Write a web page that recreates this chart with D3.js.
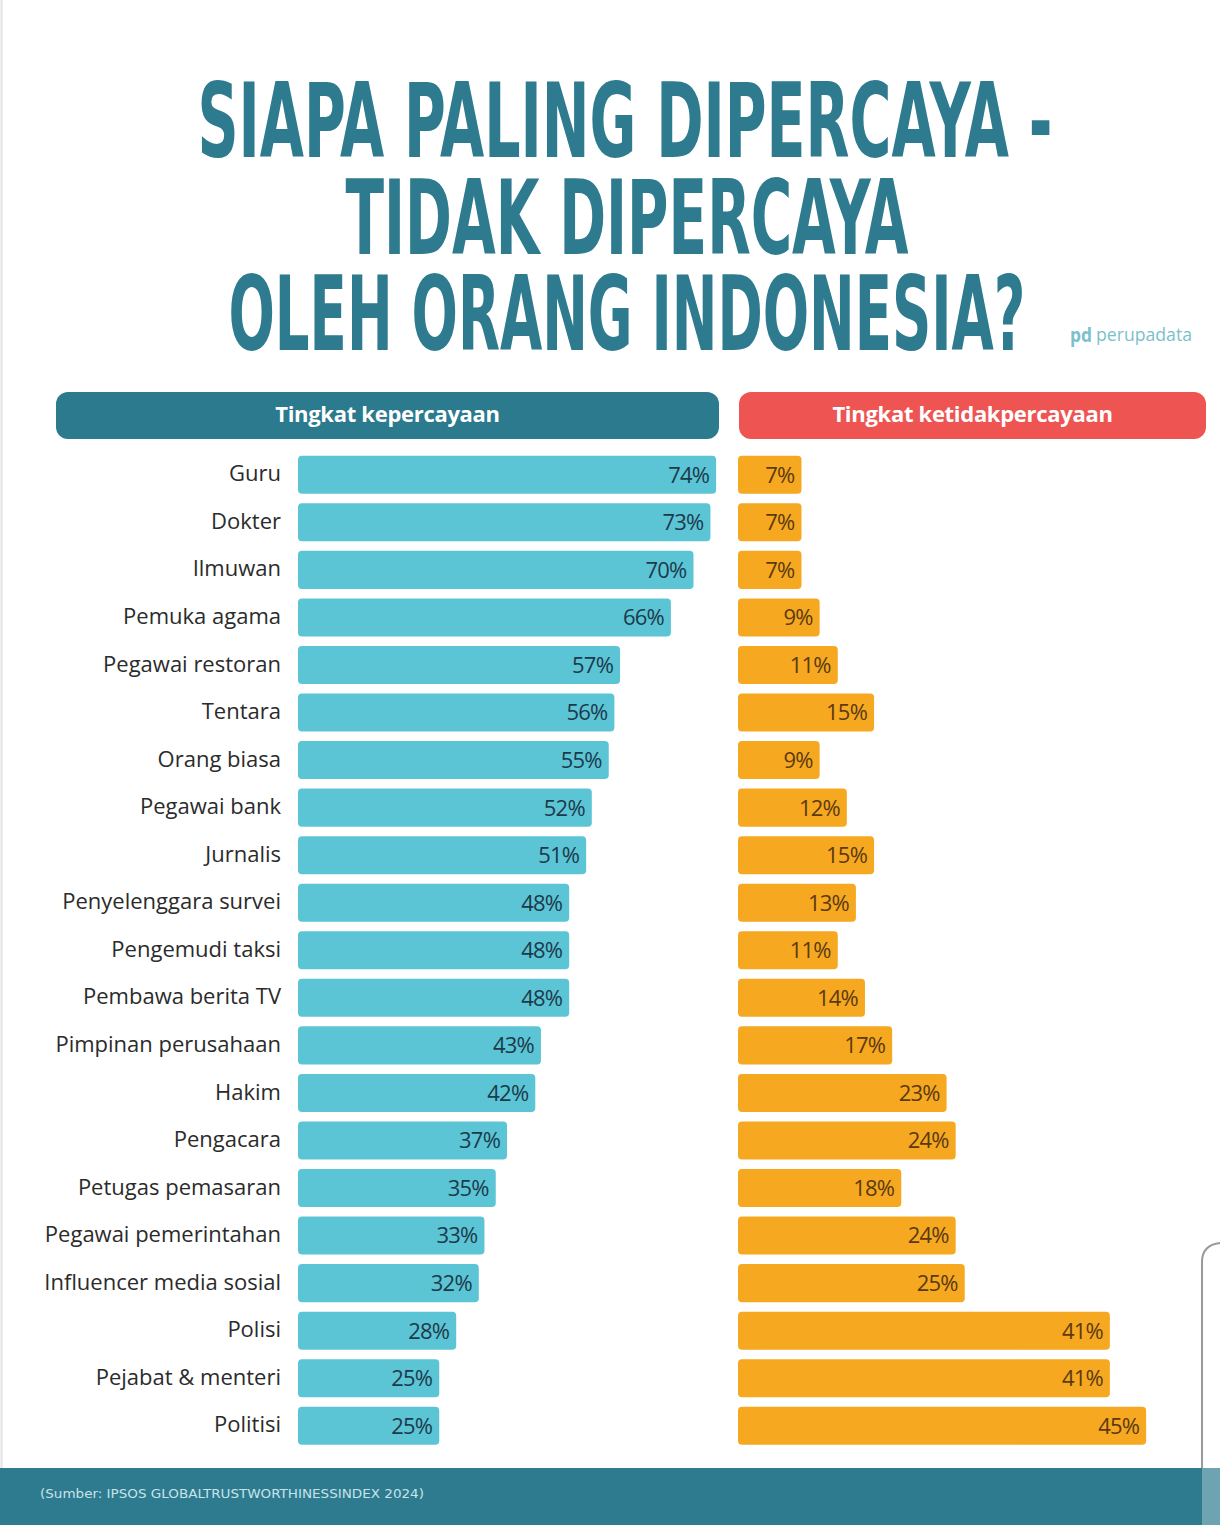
<!DOCTYPE html>
<html>
<head>
<meta charset="utf-8">
<script src="https://cdn.jsdelivr.net/npm/d3@7"></script>
<style>
  html, body { margin: 0; padding: 0; background: #fff; }
  svg { display: block; }
</style>
</head>
<body>
<svg id="chart"></svg>
<script>
// data
const categories = ["Guru", "Dokter", "Ilmuwan", "Pemuka agama", "Pegawai restoran", "Tentara",
  "Orang biasa", "Pegawai bank", "Jurnalis", "Penyelenggara survei", "Pengemudi taksi",
  "Pembawa berita TV", "Pimpinan perusahaan", "Hakim", "Pengacara", "Petugas pemasaran",
  "Pegawai pemerintahan", "Influencer media sosial", "Polisi", "Pejabat & menteri", "Politisi"];
const trusted = [74, 73, 70, 66, 57, 56, 55, 52, 51, 48, 48, 48, 43, 42, 37, 35, 33, 32, 28, 25, 25];
const distrusted = [7, 7, 7, 9, 11, 15, 9, 12, 15, 13, 11, 14, 17, 23, 24, 18, 24, 25, 41, 41, 45];
const titleLines = ["SIAPA PALING DIPERCAYA -", "TIDAK DIPERCAYA", "OLEH ORANG INDONESIA?"];
const headers = ["Tingkat kepercayaan", "Tingkat ketidakpercayaan"];
const source = "(Sumber: IPSOS GLOBALTRUSTWORTHINESSINDEX 2024)";

const width = 1220, height = 1525;
const svg = d3.select("#chart").attr("width", width).attr("height", height);
const fontBody = "'Open Sans', 'Noto Sans', sans-serif";
const fontTitle = "'DejaVu Sans Condensed', 'Liberation Sans Narrow', 'Roboto', sans-serif";

// faint page edge
svg.append("line").attr("x1", 1.5).attr("x2", 1.5).attr("y1", 0).attr("y2", 1468)
  .attr("stroke", "#e2e2e2").attr("stroke-width", 2);

// title: condensed face stretched vertically to get the tall poster look
const stretch = 1.78;
const titleSpec = [{y: 157, w: 855, x: 625}, {y: 254, w: 563, x: 627}, {y: 350, w: 797, x: 627}];
svg.append("g").attr("transform", `scale(1,${stretch})`)
  .selectAll("text").data(titleLines).join("text")
  .attr("x", (d, i) => titleSpec[i].x)
  .attr("y", (d, i) => titleSpec[i].y / stretch)
  .attr("text-anchor", "middle")
  .attr("textLength", (d, i) => titleSpec[i].w)
  .attr("lengthAdjust", "spacingAndGlyphs")
  .style("font-family", fontTitle).style("font-weight", "bold").style("font-size", "58px")
  .attr("fill", "#2e7b8f")
  .text(d => d);

// logo
svg.append("text").attr("x", 1070).attr("y", 342)
  .attr("textLength", 22).attr("lengthAdjust", "spacingAndGlyphs")
  .style("font-family", fontBody).style("font-weight", "bold").style("font-size", "19px")
  .attr("fill", "#7cc0cb").text("pd");
svg.append("text").attr("x", 1096).attr("y", 341)
  .attr("textLength", 96).attr("lengthAdjust", "spacingAndGlyphs")
  .style("font-family", fontBody).style("font-size", "17.5px")
  .attr("fill", "#7cc0cb").text("perupadata");

// header pills
const headerBoxes = [{x: 56, w: 663, c: "#2b7a8e"}, {x: 739, w: 467, c: "#ee5552"}];
const hg = svg.append("g");
hg.selectAll("rect").data(headerBoxes).join("rect")
  .attr("x", d => d.x).attr("y", 392).attr("width", d => d.w).attr("height", 47)
  .attr("rx", 12).attr("fill", d => d.c);
hg.selectAll("text").data(headers).join("text")
  .attr("x", (d, i) => headerBoxes[i].x + headerBoxes[i].w / 2)
  .attr("y", 422).attr("text-anchor", "middle")
  .style("font-family", fontBody).style("font-weight", "bold").style("font-size", "22px")
  .attr("letter-spacing", "-0.3").attr("fill", "#fff").text(d => d);

// scales
const y = d3.scaleBand().domain(categories).range([451, 451 + 21 * 47.55])
  .paddingInner(0.2).paddingOuter(0.1);
const xL = d3.scaleLinear().domain([0, 100]).range([298, 298 + 565]);
const xR = d3.scaleLinear().domain([0, 100]).range([738, 738 + 907]);

const rows = categories.map((c, i) => ({c, t: trusted[i], d: distrusted[i]}));

// category labels
svg.append("g").selectAll("text").data(rows).join("text")
  .attr("x", 281).attr("y", d => y(d.c) + y.bandwidth() / 2)
  .attr("dy", "0.3em").attr("text-anchor", "end")
  .style("font-family", fontBody).style("font-size", "22px").attr("fill", "#2b2b2b")
  .text(d => d.c);

// trusted bars
const gl = svg.append("g");
gl.selectAll("rect").data(rows).join("rect")
  .attr("x", xL(0)).attr("y", d => y(d.c))
  .attr("width", d => xL(d.t) - xL(0)).attr("height", y.bandwidth())
  .attr("rx", 4).attr("fill", "#5bc5d6");
gl.selectAll("text").data(rows).join("text")
  .attr("x", d => xL(d.t) - 7).attr("y", d => y(d.c) + y.bandwidth() / 2)
  .attr("dy", "0.36em").attr("text-anchor", "end")
  .style("font-family", fontBody).style("font-size", "22px").attr("letter-spacing", "-0.8")
  .attr("fill", "#1d3a4a").text(d => d.t + "%");

// distrusted bars
const gr = svg.append("g");
gr.selectAll("rect").data(rows).join("rect")
  .attr("x", xR(0)).attr("y", d => y(d.c))
  .attr("width", d => xR(d.d) - xR(0)).attr("height", y.bandwidth())
  .attr("rx", 4).attr("fill", "#f6a821");
gr.selectAll("text").data(rows).join("text")
  .attr("x", d => xR(d.d) - 7).attr("y", d => y(d.c) + y.bandwidth() / 2)
  .attr("dy", "0.36em").attr("text-anchor", "end")
  .style("font-family", fontBody).style("font-size", "22px").attr("letter-spacing", "-0.8")
  .attr("fill", "#5b3a10").text(d => d.d + "%");

// stray frame at right
svg.append("path").attr("d", "M1202,1468 L1202,1262 Q1202,1245 1220,1243")
  .attr("fill", "none").attr("stroke", "#9a9a9a").attr("stroke-width", 2);

// footer
svg.append("rect").attr("x", 0).attr("y", 1468).attr("width", 1202).attr("height", 57).attr("fill", "#2e7b8f");
svg.append("rect").attr("x", 1202).attr("y", 1468).attr("width", 18).attr("height", 57).attr("fill", "#6ea3b1");
svg.append("text").attr("x", 40).attr("y", 1498)
  .attr("textLength", 384).attr("lengthAdjust", "spacingAndGlyphs")
  .style("font-family", fontTitle).style("font-size", "13px").attr("fill", "#c7e3ea")
  .text(source);
</script>
</body>
</html>
